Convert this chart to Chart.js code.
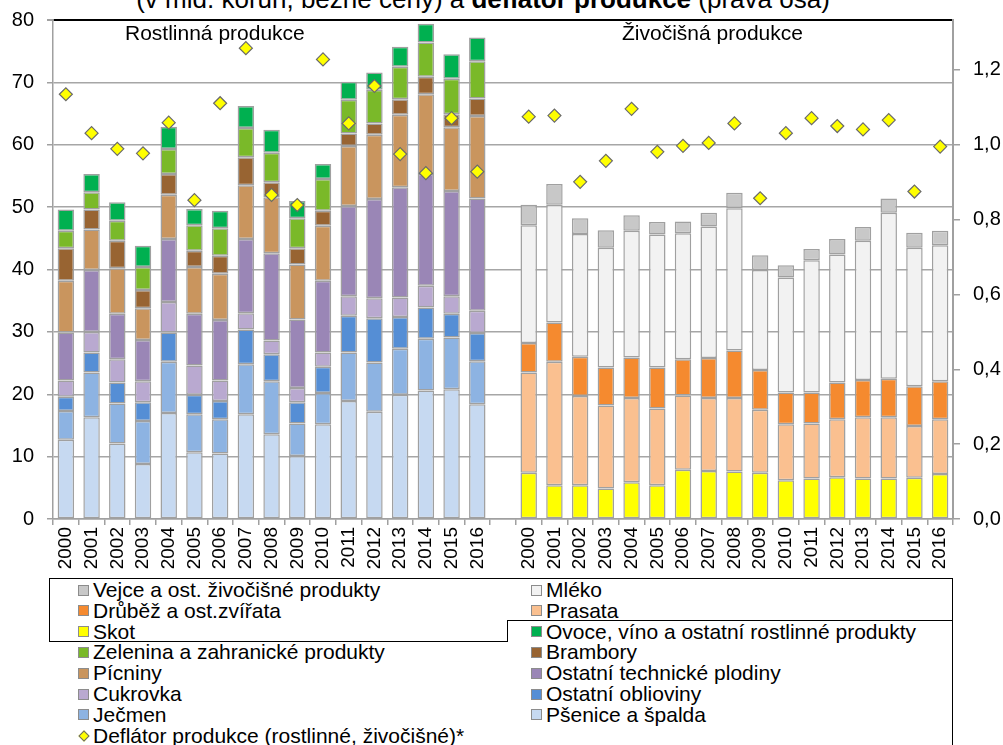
<!doctype html>
<html lang="cs">
<head>
<meta charset="UTF-8">
<title>Produkce zemědělství</title>
<script src="https://cdn.jsdelivr.net/npm/chart.js"></script>
<style>
    body { margin: 0; width: 1003px; height: 745px; overflow: hidden; background: #fff; position: relative;
           font-family: "Liberation Sans", Arial, sans-serif; }
    #chart { position: absolute; left: 0; top: 0; }
    #title { position: absolute; left: 0; top: -14px; width: 966px; text-align: center; font-size: 26px;
             line-height: 26px; white-space: nowrap; }
    .ln { position: absolute; background: #000; }
    .sw { position: absolute; width: 9px; height: 9px; border: 1px solid #8c8c8c; }
    .tx { position: absolute; font-size: 21px; line-height: 21px; white-space: nowrap; }
</style>
</head>
<body>
<div id="title">(v mld. korun, běžné ceny) a <b>deflátor produkce</b> (pravá osa)</div>
<canvas id="chart" width="1003" height="575"></canvas>
<div id="legend"></div>

<script>
    const years = ['2000', '2001', '2002', '2003', '2004', '2005', '2006', '2007', '2008',
                   '2009', '2010', '2011', '2012', '2013', '2014', '2015', '2016'];

    // rostlinná produkce (mld. Kč)
    const psenice   = [12.7, 16.3, 12.1, 8.8, 17.0, 10.7, 10.5, 16.8, 13.6, 10.1, 15.2, 18.9, 17.2, 19.9, 20.6, 20.8, 18.4];
    const jecmen    = [4.6, 7.2, 6.4, 6.9, 8.2, 6.1, 5.5, 8.0, 8.5, 5.2, 5.0, 7.8, 7.9, 7.4, 8.3, 8.3, 6.9];
    const olejniny  = [2.3, 3.2, 3.4, 3.0, 4.7, 3.1, 2.9, 5.6, 4.3, 3.4, 4.2, 5.9, 7.1, 5.1, 5.0, 3.8, 4.5];
    const cukrovka  = [2.6, 3.3, 3.7, 3.4, 4.9, 4.7, 3.3, 2.6, 2.2, 2.3, 2.3, 3.1, 3.2, 3.1, 3.5, 2.8, 3.6];
    const technicke = [7.7, 9.9, 7.3, 6.6, 10.1, 8.3, 9.7, 11.9, 14.0, 11.0, 11.5, 14.5, 15.9, 17.7, 17.9, 16.9, 18.0];
    const picniny   = [8.3, 6.5, 7.3, 5.1, 7.1, 7.5, 7.4, 8.6, 9.0, 8.8, 8.8, 9.6, 10.3, 11.6, 12.8, 10.2, 13.2];
    const brambory  = [5.2, 3.2, 4.4, 2.9, 3.3, 2.6, 2.9, 4.5, 2.4, 2.6, 2.4, 2.0, 1.8, 2.5, 2.8, 2.1, 2.8];
    const zelenina  = [2.8, 2.8, 3.2, 3.7, 4.0, 4.1, 4.4, 4.7, 4.7, 4.8, 5.1, 5.4, 5.4, 5.2, 5.5, 5.7, 6.0];
    const ovoce     = [3.4, 2.9, 3.0, 3.4, 3.6, 2.6, 2.8, 3.5, 3.7, 2.8, 2.4, 2.9, 2.8, 3.2, 3.0, 3.9, 3.8];

    // živočišná produkce (mld. Kč)
    const skot    = [7.4, 5.4, 5.4, 4.9, 5.9, 5.4, 7.9, 7.7, 7.6, 7.4, 6.2, 6.5, 6.7, 6.5, 6.5, 6.6, 7.2];
    const prasata = [16.1, 19.8, 14.3, 13.3, 13.5, 12.3, 11.9, 11.7, 11.8, 10.1, 9.0, 8.8, 9.3, 9.8, 9.8, 8.3, 8.8];
    const drubez  = [4.7, 6.3, 6.3, 6.1, 6.5, 6.6, 5.8, 6.4, 7.6, 6.4, 5.1, 5.0, 5.9, 6.0, 6.2, 6.4, 6.1];
    const mleko   = [18.9, 18.9, 19.7, 19.2, 20.3, 21.3, 20.2, 21.1, 22.8, 16.0, 18.4, 21.2, 20.5, 22.3, 26.6, 22.2, 21.8];
    const vejce   = [3.3, 3.3, 2.5, 2.8, 2.5, 2.0, 1.9, 2.2, 2.5, 2.4, 2.0, 1.8, 2.5, 2.2, 2.3, 2.4, 2.3];

    // deflátor (pravá osa)
    const deflRostl = [1.135, 1.031, 0.989, 0.977, 1.059, 0.852, 1.111, 1.258, 0.866, 0.839, 1.228, 1.057, 1.157, 0.975, 0.924, 1.071, 0.928];
    const deflZivoc = [1.075, 1.078, 0.901, 0.957, 1.096, 0.981, 0.997, 1.005, 1.057, 0.857, 1.031, 1.071, 1.050, 1.041, 1.066, 0.875, 0.995];

    const leftTicks = [0, 10, 20, 30, 40, 50, 60, 70, 80];

    const FONT = '"Liberation Sans", Arial, sans-serif';
    const labels = years.concat([''], years);
    const gap = new Array(18).fill(null);
    const plant = v => v.concat(gap);
    const animal = v => gap.concat(v);

    function bar(label, data, color) {
        return { label: label, data: data, backgroundColor: color, borderColor: '#a0a0a0',
                 borderWidth: 1.5, borderSkipped: false, order: 1 };
    }

    const datasets = [
        bar('Pšenice a špalda', plant(psenice), '#c6d9f1'),
        bar('Ječmen', plant(jecmen), '#8db3e2'),
        bar('Ostatní oblioviny', plant(olejniny), '#558ed5'),
        bar('Cukrovka', plant(cukrovka), '#b9a9d0'),
        bar('Ostatní technické plodiny', plant(technicke), '#9a86b6'),
        bar('Pícniny', plant(picniny), '#c9955e'),
        bar('Brambory', plant(brambory), '#986432'),
        bar('Zelenina a zahranické produkty', plant(zelenina), '#7ab929'),
        bar('Ovoce, víno a ostatní rostlinné produkty', plant(ovoce), '#00b050'),
        bar('Skot', animal(skot), '#ffff00'),
        bar('Prasata', animal(prasata), '#fac090'),
        bar('Drůběž a ost.zvířata', animal(drubez), '#f58a2f'),
        bar('Mléko', animal(mleko), '#f2f2f2'),
        bar('Vejce a ost. živočišné produkty', animal(vejce), '#c8c8c8'),
        {
            type: 'line', label: 'Deflátor produkce (rostlinné, živočišné)*',
            data: deflRostl.concat([null], deflZivoc), yAxisID: 'y1', showLine: false,
            pointStyle: 'rectRot', pointRadius: 6.5, pointBackgroundColor: '#ffff00',
            pointBorderColor: '#6a6a6a', pointBorderWidth: 1.2, order: 0
        }
    ];

    const groupLabels = {
        id: 'groupLabels',
        afterDraw(chart) {
            const ctx = chart.ctx, a = chart.chartArea;
            ctx.save();
            ctx.font = '21px ' + FONT;
            ctx.fillStyle = '#000';
            ctx.textBaseline = 'alphabetic';
            ctx.fillText('Rostlinná produkce', a.left + 72, a.top + 20);
            ctx.fillText('Živočišná produkce', a.left + 569, a.top + 20);
            ctx.restore();
        }
    };

    // svisle osy nesmi posouvat horni okraj grafu
    function fixWidth(w) {
        return s => { s.width = w; s.paddingTop = 0; s.paddingBottom = 0; };
    }

    new Chart(document.getElementById('chart'), {
        type: 'bar',
        data: { labels: labels, datasets: datasets },
        plugins: [groupLabels],
        options: {
            responsive: false,
            animation: false,
            layout: { padding: { top: 20, left: 0, right: 0, bottom: 0 } },
            datasets: { bar: { barPercentage: 0.64, categoryPercentage: 1 } },
            plugins: { legend: { display: false }, tooltip: { enabled: false } },
            scales: {
                x: {
                    stacked: true,
                    ticks: { autoSkip: false, minRotation: 90, maxRotation: 90, padding: 2,
                             color: '#000', font: { size: 19, family: FONT } },
                    grid: { drawOnChartArea: false, offset: true, tickLength: 6, color: '#a0a0a0', lineWidth: 1.5 },
                    border: { color: '#a0a0a0', width: 1.5 },
                    afterFit: s => { s.height = 56; }
                },
                y: {
                    stacked: true, min: 0, max: 80,
                    afterBuildTicks: s => { s.ticks = leftTicks.map(v => ({ value: v })); },
                    ticks: { padding: 13, color: '#000', font: { size: 20, family: FONT } },
                    grid: {
                        color: c => (c.tick && c.tick.value === 80) ? '#000' : '#a6a6a6',
                        lineWidth: c => (c.tick && c.tick.value === 80) ? 2 : 1.5,
                        tickColor: '#a0a0a0', tickLength: 6
                    },
                    border: { color: '#a0a0a0', width: 1.5 },
                    afterFit: fixWidth(53)
                },
                y1: {
                    position: 'right', min: 0, max: 80 / 60,
                    afterBuildTicks: s => { s.ticks = s.ticks.filter(t => t.value < 1.3); },
                    ticks: { stepSize: 0.2, padding: 13, color: '#000', font: { size: 20, family: FONT },
                             callback: v => v.toFixed(1).replace('.', ',') },
                    grid: { drawOnChartArea: false, tickLength: 7, color: '#a0a0a0', lineWidth: 1.5 },
                    border: { color: '#a0a0a0', width: 2 },
                    afterFit: fixWidth(50)
                }
            }
        }
    });

    // legenda - dva sloupce jako v originalu
    const legend = document.getElementById('legend');
    function line(x, y, w, h) {
        const d = document.createElement('div');
        d.className = 'ln';
        d.style.cssText = `left:${x}px;top:${y}px;width:${w}px;height:${h}px`;
        legend.appendChild(d);
    }
    line(49, 578, 904, 1);
    line(49, 578, 1, 64);
    line(49, 641, 459, 1);
    line(507, 620, 1, 22);
    line(507, 620, 446, 1);
    line(952, 578, 1, 170);

    const leftCol = [13, 11, 9, 7, 5, 3, 1, 14];
    const rightCol = [12, 10, 8, 6, 4, 2, 0];
    function item(idx, row, x) {
        const ds = datasets[idx];
        const cy = 590 + row * 20.8;
        if (ds.type === 'line') {
            const d = document.createElement('div');
            d.className = 'sw';
            d.style.cssText = `left:${x + 2}px;top:${cy - 4}px;width:6px;height:6px;background:#ffff00;` +
                              'border-color:#6a6a6a;transform:rotate(45deg)';
            legend.appendChild(d);
        } else {
            const s = document.createElement('div');
            s.className = 'sw';
            s.style.cssText = `left:${x}px;top:${cy - 5.5}px;background:${ds.backgroundColor}`;
            legend.appendChild(s);
        }
        const t = document.createElement('div');
        t.className = 'tx';
        t.textContent = ds.label;
        t.style.cssText = `left:${x + 15}px;top:${cy - 11}px`;
        legend.appendChild(t);
    }
    leftCol.forEach((idx, i) => item(idx, i, 78));
    rightCol.forEach((idx, i) => item(idx, i, 531));
</script>
</body>
</html>
